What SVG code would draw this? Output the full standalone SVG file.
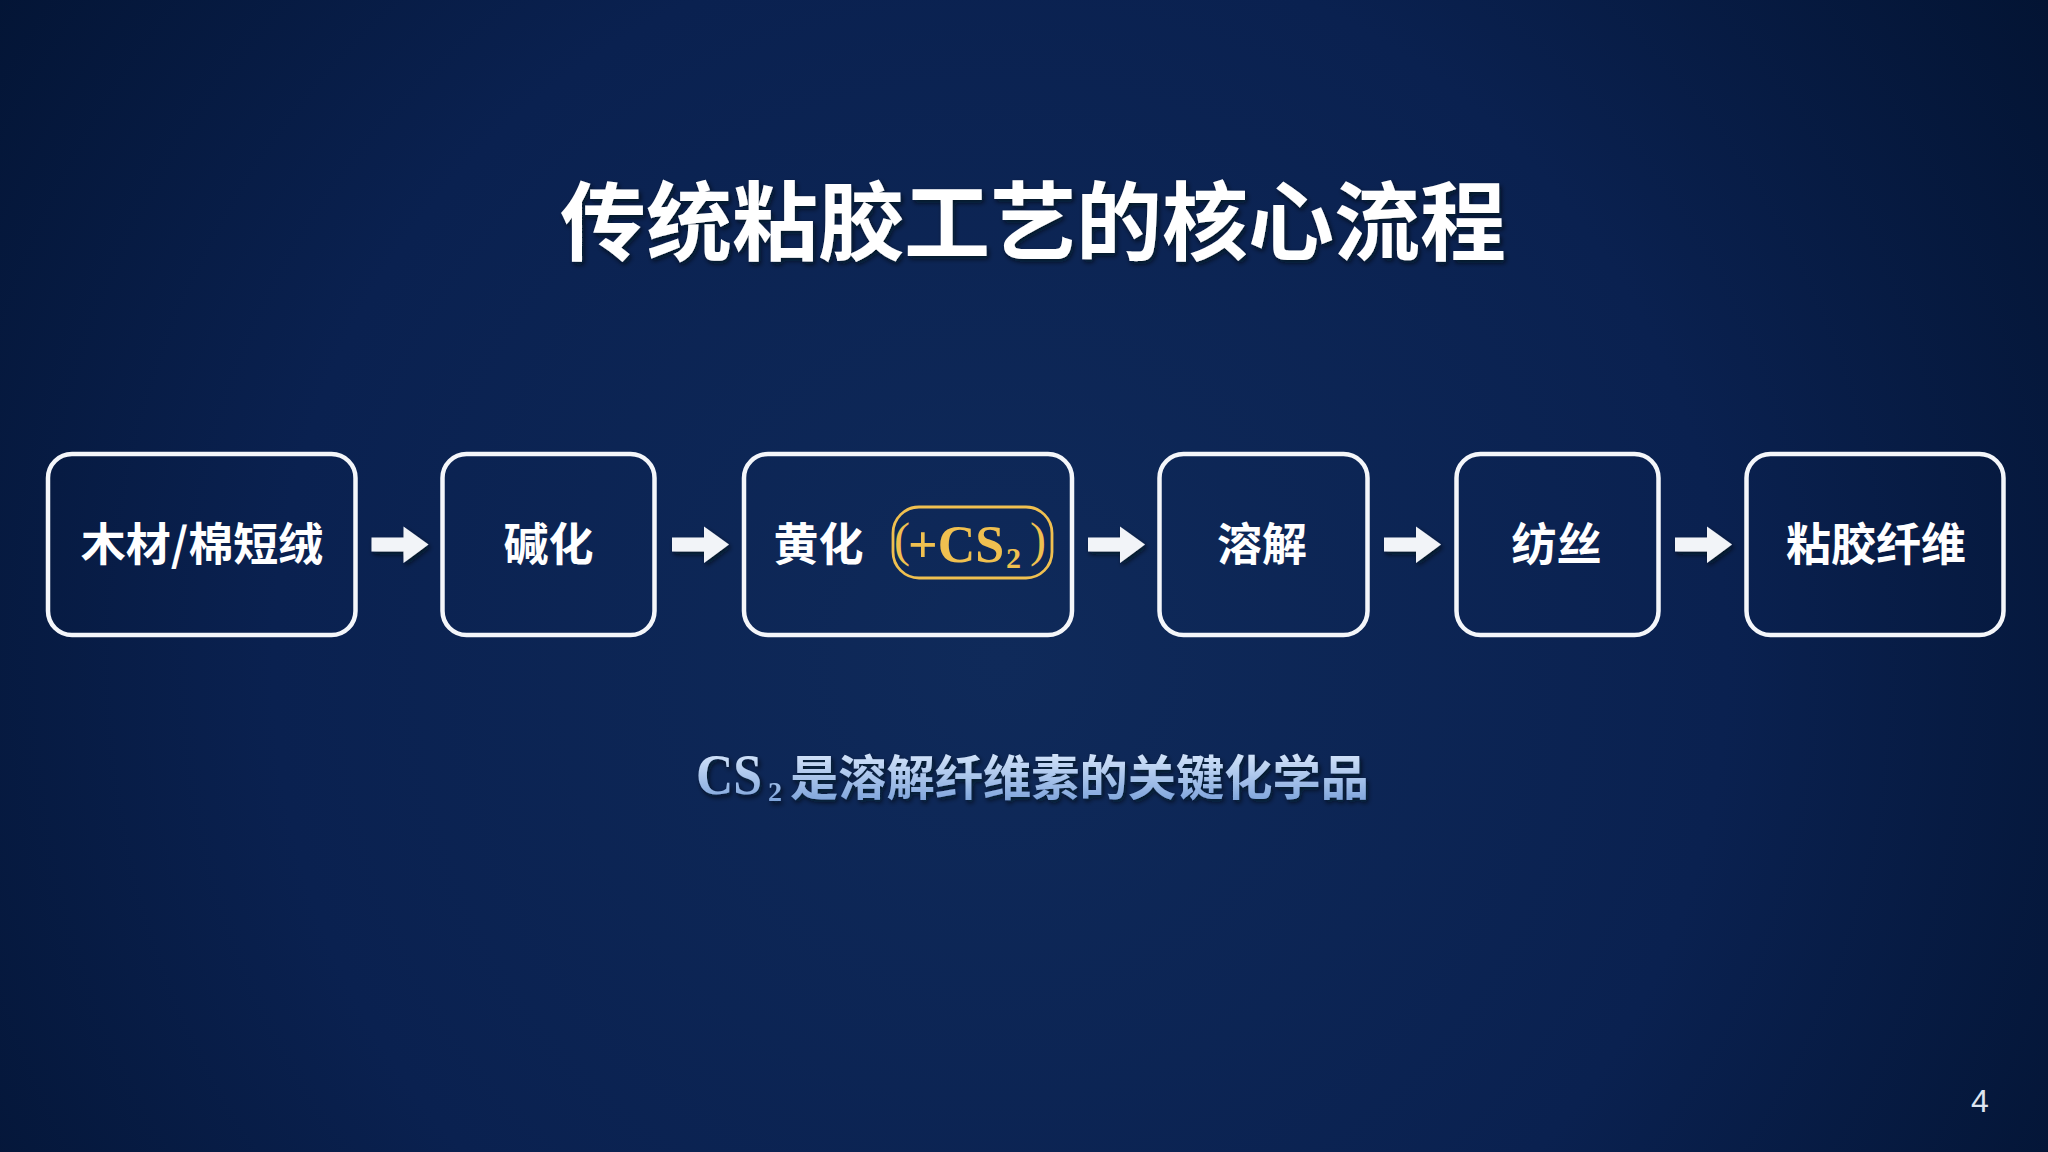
<svg xmlns="http://www.w3.org/2000/svg" width="2048" height="1152" viewBox="0 0 2048 1152">
  <defs>
    <radialGradient id="bg" cx="1000" cy="660" r="1320" gradientUnits="userSpaceOnUse">
      <stop offset="0" stop-color="#0F2A5A"/>
      <stop offset="0.55" stop-color="#0A2150"/>
      <stop offset="1" stop-color="#02122F"/>
    </radialGradient>
    <linearGradient id="subGrad" x1="0" y1="752" x2="0" y2="802" gradientUnits="userSpaceOnUse">
      <stop offset="0" stop-color="#D6E6FB"/>
      <stop offset="1" stop-color="#7DA3DB"/>
    </linearGradient>
    <filter id="shadow" x="-10%" y="-20%" width="120%" height="140%">
      <feDropShadow dx="2" dy="3" stdDeviation="2.5" flood-color="#000814" flood-opacity="0.7"/>
    </filter>
    <style>
      .box { fill: none; stroke: #F4F6FA; stroke-width: 4.5; }
      .lbl { font-family: "Noto Sans CJK SC", "Liberation Sans", sans-serif; font-weight: 700; font-size: 45px; fill: #FFFFFF; text-anchor: middle; }
      .arrow { fill: #F2F4F8; }
      .gold { fill: #F0C050; font-family: "Liberation Serif", "Noto Sans CJK SC", serif; }
    </style>
  </defs>

  <rect x="0" y="0" width="2048" height="1152" fill="url(#bg)"/>

  <g id="title" filter="url(#shadow)">
    <text x="1033" y="254" font-family="'Noto Sans CJK SC', 'Liberation Sans', sans-serif" font-weight="700" font-size="86" fill="#FFFFFF" text-anchor="middle">传统粘胶工艺的核心流程</text>
  </g>

  <g id="connectors" filter="url(#shadow)">
    <polygon class="arrow" points="371.5,537.5 403.5,537.5 403.5,526.5 428.5,544.5 403.5,563 403.5,551.5 371.5,551.5"/>
    <polygon class="arrow" points="672,537.5 704,537.5 704,526.5 729,544.5 704,563 704,551.5 672,551.5"/>
    <polygon class="arrow" points="1088,537.5 1120,537.5 1120,526.5 1145,544.5 1120,563 1120,551.5 1088,551.5"/>
    <polygon class="arrow" points="1384,537.5 1416,537.5 1416,526.5 1441,544.5 1416,563 1416,551.5 1384,551.5"/>
    <polygon class="arrow" points="1675,537.5 1707,537.5 1707,526.5 1732,544.5 1707,563 1707,551.5 1675,551.5"/>
  </g>

  <g id="node-raw">
    <rect class="box" x="48" y="454" width="307.5" height="181" rx="24"/>
    <text class="lbl" x="202" y="561" font-size="46">木材/棉短绒</text>
  </g>

  <g id="node-alkali">
    <rect class="box" x="442.5" y="454" width="212" height="181" rx="24"/>
    <text class="lbl" x="548.5" y="561">碱化</text>
  </g>

  <g id="node-xanthation">
    <rect class="box" x="744" y="454" width="328" height="181" rx="24"/>
    <text class="lbl" x="818.5" y="561">黄化</text>
    <rect x="893" y="507" width="159" height="71" rx="26" fill="none" stroke="#F0C050" stroke-width="2.8"/>
    <text class="gold"><tspan x="894" y="556" font-size="48">(</tspan><tspan x="908" y="562" font-size="52" font-weight="700">+CS</tspan><tspan x="1006" y="568" font-size="30" font-weight="700">2</tspan><tspan x="1030" y="556" font-size="48">)</tspan></text>
  </g>

  <g id="node-dissolve">
    <rect class="box" x="1159.5" y="454" width="208" height="181" rx="24"/>
    <text class="lbl" x="1262" y="561">溶解</text>
  </g>

  <g id="node-spin">
    <rect class="box" x="1456.5" y="454" width="202" height="181" rx="24"/>
    <text class="lbl" x="1556.5" y="561">纺丝</text>
  </g>

  <g id="node-fiber">
    <rect class="box" x="1746.5" y="454" width="257" height="181" rx="24"/>
    <text class="lbl" x="1876" y="561">粘胶纤维</text>
  </g>

  <g id="subtitle" filter="url(#shadow)">
    <text fill="url(#subGrad)"><tspan x="696" y="794" font-family="'Liberation Serif', serif" font-weight="700" font-size="56" textLength="66" lengthAdjust="spacingAndGlyphs">CS</tspan><tspan x="768" y="801" font-family="'Liberation Serif', serif" font-weight="700" font-size="28">2</tspan><tspan x="790" y="795" font-family="'Noto Sans CJK SC', 'Liberation Sans', sans-serif" font-weight="700" font-size="48" textLength="579" lengthAdjust="spacingAndGlyphs">是溶解纤维素的关键化学品</tspan></text>
  </g>

  <g id="page-number">
    <text x="1980" y="1112" font-family="'Liberation Sans', sans-serif" font-size="32" fill="#DDE4F0" text-anchor="middle">4</text>
  </g>
</svg>
